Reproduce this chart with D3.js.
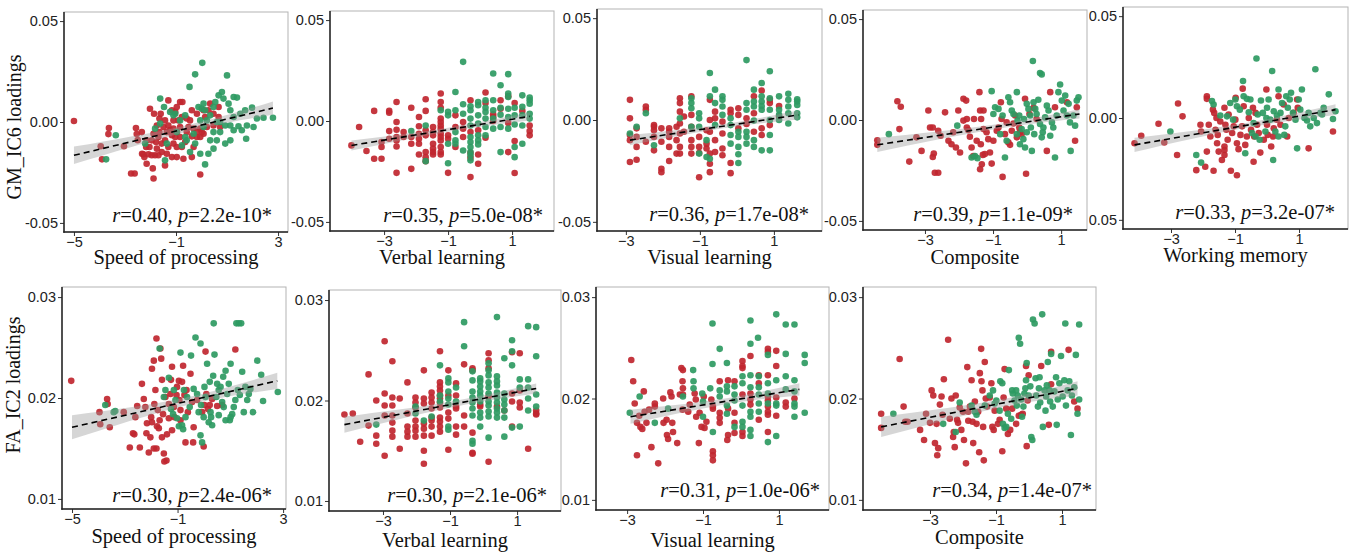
<!DOCTYPE html>
<html><head><meta charset="utf-8">
<script src="https://cdn.jsdelivr.net/npm/d3@7"></script>
<style>body{margin:0;background:#fff}</style>
</head><body><svg id="c" width="1355" height="556"></svg>
<script>
// ---------- DATA ----------
const xTitles = ["Speed of processing","Verbal learning","Visual learning","Composite","Working memory","Speed of processing","Verbal learning","Visual learning","Composite"];
const yTitles = ["GM_IC6 loadings","FA_IC2 loadings"];
const rValues = ["0.40","0.35","0.36","0.39","0.33","0.30","0.30","0.31","0.34"];
const pValues = ["2.2e-10","5.0e-08","1.7e-08","1.1e-09","3.2e-07","2.4e-06","2.1e-06","1.0e-06","1.4e-07"];
const xTickValues = [[-5,-1,3],[-3,-1,1],[-3,-1,1],[-3,-1,1],[-3,-1,1],[-5,-1,3],[-3,-1,1],[-3,-1,1],[-3,-1,1]];
const yTicksTop = [-0.05,0,0.05];
const yTickLabelsTop = ["-0.05","0.00","0.05"];
const yTicksBottom = [0.01,0.02,0.03];
const yTickLabelsBottom = ["0.01","0.02","0.03"];
// fitted line: [x0, y0, x1, y1]
const fitLines = [
 [-5.0,-0.0165,2.8,0.0069],[-4.02,-0.0121,1.55,0.0023],[-2.89,-0.0099,1.66,0.0025],[-4.40,-0.0123,1.54,0.003],[-4.14,-0.0132,2.14,0.0041],
 [-5.0,0.0171,2.78,0.0217],[-4.15,0.0176,1.57,0.0212],[-2.91,0.0182,1.54,0.0209],[-4.48,0.0172,1.47,0.021]
];
// confidence band: [x at narrowest, half-width at start, at narrowest, at end]
const bandWidths = [
 [-0.6,0.0043,0.0016,0.0033],[-1.0,0.0025,0.001,0.002],[-0.5,0.0025,0.001,0.0022],[-1.0,0.0035,0.0012,0.0023],[-0.7,0.0035,0.0012,0.0026],
 [-0.8,0.0012,0.0004,0.0008],[-1.0,0.0008,0.0003,0.0005],[-0.5,0.0007,0.0003,0.0006],[-1.0,0.001,0.0004,0.0007]
];

const red1 = [[-5.0,0.0005],[-3.63,-0.003],[-3.65,-0.006],[-3.95,-0.012],[-3.9,-0.0185],[-3.04,-0.012],[-2.76,-0.0255],[-2.62,-0.0255],[-2.57,-0.003],[-2.54,-0.006],[-2.5,-0.009],[-2.33,-0.0157],[-2.24,-0.0174],[-2.15,-0.0207],[-2.17,-0.0124],[-2.28,-0.016],[-2.08,-0.016],[-1.95,-0.0165],[-1.82,-0.0165],[-1.69,-0.0165],[-1.88,-0.028],[-1.91,-0.023],[-2.02,0.0066],[-1.86,0.0041],[-1.65,0.0017],[-1.75,-0.0017],[-1.49,-0.0025],[-1.36,-0.005],[-1.23,-0.004],[-1.1,-0.0033],[-0.96,-0.005],[-0.84,-0.0025],[-1.3,0.0107],[-1.16,0.0058],[-1.03,0.005],[-0.84,0.0099],[-0.75,0.0099],[-0.58,0.0017],[-0.45,0.0008],[-0.31,-0.0033],[-0.18,-0.005],[-0.05,-0.0074],[0.08,-0.0058],[-1.56,-0.0107],[-1.43,-0.0091],[-1.3,-0.0124],[-1.1,-0.0107],[-0.97,-0.0124],[-0.77,-0.0124],[-0.64,-0.0099],[-1.56,-0.0149],[-1.36,-0.0157],[-1.16,-0.0174],[-1.43,-0.0215],[-0.97,-0.0174],[-0.71,-0.0182],[-0.38,-0.0174],[-0.05,-0.026],[-1.78,-0.0099],[-1.69,-0.0074],[-1.95,-0.0091],[-2.15,-0.0091],[-1.88,-0.0058],[-1.65,-0.005],[-0.58,-0.005],[-0.38,-0.0071],[-0.18,-0.0074],[0.01,-0.005],[0.14,0.0025],[0.27,0.0058],[0.34,0.0091],[0.08,0.0058],[0.47,0.0041],[0.67,0.0025],[0.21,-0.0025],[0.47,-0.0017],[0.73,-0.0025],[-0.38,0.0058],[-0.18,0.0041],[-1.1,0.0008],[-0.9,0.0008],[-0.77,0.0025],[-1.3,-0.0017],[-1.16,-0.0066],[-0.84,-0.0074],[-0.51,-0.0025],[-1.43,0.0008],[-1.6,0.0041],[-0.97,0.0074],[-2.34,-0.005],[-2.04,-0.0124],[-1.75,-0.0132],[-1.03,-0.0074],[-0.31,-0.0124],[-0.05,-0.0033],[0.67,0.0074]];
const green1 = [[-3.74,-0.0185],[-3.36,-0.0066],[-2.21,-0.0107],[-1.62,0.0116],[-1.47,0.0074],[-1.23,0.005],[-1.36,-0.0107],[-1.43,-0.019],[-1.03,0.0041],[-0.97,-0.005],[-0.84,0.0008],[-0.64,0.0033],[-0.47,0.0174],[-0.25,0.0236],[0.03,0.0293],[-0.12,0.0074],[0.01,0.0066],[0.14,0.0058],[-0.05,0.0008],[0.08,-0.0025],[0.21,0.0008],[0.34,0.0033],[0.54,0.0099],[0.67,0.0132],[0.8,0.0149],[1.0,0.0231],[0.86,0.0116],[1.06,0.0091],[1.26,0.0124],[1.39,0.0121],[1.13,0.0058],[1.26,0.0025],[1.52,0.0041],[1.71,0.0058],[1.98,0.0071],[1.78,-0.0017],[2.04,-0.0025],[2.17,0.0017],[2.43,0.0021],[2.8,0.0021],[1.75,-0.0083],[1.26,-0.0041],[1.13,-0.0091],[0.93,-0.0107],[0.73,-0.005],[0.6,-0.0091],[0.47,-0.0132],[0.27,-0.0157],[-0.05,-0.0157],[0.14,-0.021],[-0.31,-0.0058],[-0.25,-0.0107],[-0.45,-0.0149],[-0.64,-0.0074],[-0.77,-0.0116],[1.13,-0.0017],[0.93,-0.0017],[0.73,0.0],[0.6,0.0],[1.45,-0.0021],[1.58,-0.0041],[0.47,-0.005],[0.34,-0.0091],[-1.62,-0.0008],[-1.82,-0.0033],[0.47,0.0074],[0.08,0.0091],[-1.1,0.0033],[-0.58,-0.0091]];

const red2 = [[-4.02,-0.0121],[-3.78,-0.003],[-3.55,-0.0149],[-3.31,0.005],[-3.31,-0.0187],[-3.08,-0.0104],[-3.08,-0.0129],[-3.08,-0.0187],[-2.84,0.005],[-2.84,0.0041],[-2.84,-0.005],[-2.84,-0.0088],[-2.61,0.0094],[-2.61,-0.0005],[-2.61,-0.0043],[-2.61,-0.0079],[-2.61,-0.0096],[-2.61,-0.0126],[-2.61,-0.0257],[-2.39,-0.0055],[-2.39,-0.0079],[-2.15,0.0066],[-2.15,-0.0079],[-2.15,-0.0113],[-2.15,-0.0237],[-1.91,0.002],[-1.91,-0.0026],[-1.91,-0.0063],[-1.91,-0.0088],[-1.91,-0.0113],[-1.91,-0.0166],[-1.70,0.0108],[-1.70,0.005],[-1.70,-0.0046],[-1.70,-0.0071],[-1.70,-0.0154],[-1.70,-0.0179],[-1.70,-0.0199],[-1.47,-0.003],[-1.47,-0.0055],[-1.47,-0.0071],[-1.47,-0.0113],[-1.47,-0.0137],[-1.47,-0.0154],[-1.47,-0.0166],[-1.23,0.0136],[-1.23,0.0094],[-1.23,0.0066],[-1.23,0.0012],[-1.23,-0.0005],[-1.23,-0.0022],[-1.23,-0.0038],[-1.23,-0.0063],[-1.23,-0.0079],[-1.23,-0.0096],[-1.23,-0.0129],[-1.23,-0.0154],[-1.23,-0.0166],[-1.0,-0.0071],[-1.0,-0.0088],[-1.0,-0.0257],[-0.77,0.0028],[-0.77,-0.003],[-0.77,-0.0129],[-0.53,-0.0005],[-0.53,-0.0038],[-0.53,-0.0079],[-0.30,0.0103],[-0.30,-0.0055],[-0.30,-0.0159],[-0.30,-0.0182],[-0.30,-0.0278],[-0.06,-0.0046],[-0.06,-0.0166],[-0.06,-0.0212],[0.17,0.0141],[0.17,0.0089],[0.17,-0.0083],[0.41,0.0033],[0.41,0.002],[0.41,0],[0.64,0.0103],[0.64,0.0061],[0.88,0.0123],[0.88,-0.001],[0.88,-0.0154],[1.08,0.0089],[1.08,-0.0099],[1.08,-0.0258],[1.32,0.005],[1.55,-0.0022],[1.55,-0.005],[1.55,-0.0071]];
const green2 = [[-2.15,-0.005],[-1.70,-0.0022],[-1.70,-0.0199],[-1.23,0.0053],[-1.0,0.0045],[-1.0,0.0028],[-1.0,-0.0113],[-1.0,-0.0209],[-0.77,0.0144],[-0.77,0.0053],[-0.77,-0.0055],[-0.77,-0.0096],[-0.77,-0.0113],[-0.53,0.0293],[-0.53,0.0083],[-0.53,0.0036],[-0.53,-0.0146],[-0.30,0.0073],[-0.30,0.0053],[-0.30,0.0012],[-0.30,-0.0022],[-0.30,-0.0079],[-0.30,-0.0104],[-0.30,-0.0129],[-0.30,-0.0154],[-0.30,-0.0171],[-0.30,-0.0195],[-0.06,0.0094],[-0.06,0.0078],[-0.06,0.0028],[-0.06,-0.0013],[-0.06,-0.0071],[-0.06,-0.0096],[-0.06,-0.0116],[0.17,0.0103],[0.17,0.0066],[0.17,0.0045],[0.17,0.0012],[0.17,-0.003],[0.17,-0.0071],[0.41,0.0235],[0.41,0.0103],[0.41,0.0053],[0.41,0.0012],[0.41,-0.0038],[0.64,0.0177],[0.64,0.0066],[0.64,0.0031],[0.64,-0.003],[0.64,-0.0154],[0.88,0.0232],[0.88,0.0136],[0.88,0.0119],[0.88,0.0061],[0.88,0.002],[0.88,-0.0038],[1.08,0.0066],[1.08,0.0028],[1.08,-0.0017],[1.08,-0.0129],[1.08,-0.0179],[1.32,0.0127],[1.32,0.007],[1.32,0.0028],[1.32,-0.0022],[1.32,-0.0113],[1.55,0.0116],[1.55,0.0103],[1.55,0.0086],[1.55,0.0036],[1.55,0.0012]];

const red3 = [[-2.89,0.0099],[-2.89,0.0008],[-2.89,-0.0074],[-2.89,-0.0099],[-2.89,-0.0206],[-2.71,-0.0041],[-2.71,-0.0083],[-2.71,-0.0132],[-2.71,-0.0195],[-2.46,0.005],[-2.46,0.0066],[-2.46,-0.0107],[-2.24,-0.0025],[-2.24,-0.0033],[-2.24,-0.005],[-2.24,-0.0083],[-2.24,-0.0149],[-2.04,-0.0041],[-2.04,-0.0107],[-2.04,-0.0239],[-2.04,-0.0256],[-1.83,-0.0041],[-1.83,-0.0058],[-1.83,-0.0083],[-1.83,-0.0132],[-1.83,-0.0201],[-1.63,-0.0033],[-1.63,-0.0099],[-1.63,-0.0165],[-1.54,0.0107],[-1.54,0.0083],[-1.54,0.0041],[-1.54,-0.0017],[-1.54,-0.0066],[-1.54,-0.0132],[-1.54,-0.0165],[-1.43,0.0017],[-1.43,-0.0058],[-1.23,0.0116],[-1.23,0.0025],[-1.23,-0.0033],[-1.23,-0.0099],[-1.23,-0.0132],[-1.23,-0.0165],[-1.02,-0.0083],[-1.02,-0.0132],[-1.02,-0.0162],[-1.02,-0.0281],[-0.82,-0.005],[-0.82,-0.0116],[-0.82,-0.014],[-0.73,0.0099],[-0.73,0],[-0.73,-0.0058],[-0.73,-0.0165],[-0.73,-0.0215],[-0.73,-0.0256],[-0.59,0.0041],[-0.59,0.0008],[-0.59,-0.0099],[-0.59,-0.0157],[-0.39,-0.0008],[-0.39,-0.0066],[-0.39,-0.014],[-0.39,-0.0173],[-0.17,0.005],[-0.17,0.0033],[-0.17,-0.0211],[-0.17,-0.0261],[0.04,0.0058],[0.04,0.0025],[0.04,-0.0041],[0.26,0.0008],[0.26,-0.002],[0.46,0.0116],[0.46,0.0033],[0.46,-0.0058],[0.67,0.0145],[0.67,-0.0041],[0.67,-0.0074],[0.89,0.0099],[0.89,0.0083],[0.89,-0.0025],[1.14,0.0069],[1.14,0.0017]];
const green3 = [[-2.89,-0.0066],[-2.71,-0.0033],[-2.46,0.0033],[-2.24,-0.0124],[-1.54,0.0008],[-1.23,0.0107],[-1.23,0.0083],[-1.23,0.0058],[-1.23,-0.0033],[-1.02,0.0033],[-1.02,0.0008],[-1.02,-0.0033],[-1.02,-0.0165],[-0.82,-0.0099],[-0.82,-0.0182],[-0.73,0.0231],[-0.73,0.0116],[-0.73,-0.019],[-0.59,0.0149],[-0.59,0.0083],[-0.59,-0.0025],[-0.39,0.0116],[-0.39,0.0099],[-0.39,0.0066],[-0.39,0.0025],[-0.17,0.0008],[-0.17,-0.0025],[-0.17,-0.0074],[-0.17,-0.0116],[0.04,-0.0058],[0.04,-0.0083],[0.04,-0.0132],[0.04,-0.0168],[0.04,-0.0211],[0.26,0.0294],[0.26,0.0083],[0.26,0.005],[0.26,-0.0058],[0.26,-0.0083],[0.26,-0.0116],[0.46,0.0149],[0.46,0.0091],[0.46,0.0066],[0.46,-0.0003],[0.46,-0.0099],[0.46,-0.0132],[0.67,0.0182],[0.67,0.0116],[0.67,0.0091],[0.67,0.0069],[0.67,0.005],[0.67,-0.0149],[0.89,0.0239],[0.89,0.0107],[0.89,0.005],[0.89,0],[0.89,-0.0074],[0.89,-0.0149],[1.14,0.0116],[1.14,0.005],[1.14,0.0025],[1.14,0],[1.39,0.0129],[1.39,0.0099],[1.39,0.0066],[1.39,0.0033],[1.39,-0.0017],[1.63,0.0102],[1.63,0.0091],[1.63,0.0074],[1.63,0.0033],[1.63,0.0013]];

const red4 = [[-4.40,-0.01],[-4.40,-0.0123],[-3.81,0.0093],[-3.71,0.0066],[-3.75,-0.0045],[-3.46,-0.0206],[-3.25,-0.0086],[-3.10,-0.0153],[-2.90,0.0047],[-2.85,-0.0037],[-2.77,-0.0037],[-2.77,-0.0183],[-2.71,-0.0261],[-2.61,-0.0261],[-2.74,-0.0166],[-2.61,-0.0053],[-2.54,-0.0078],[-2.41,0.0038],[-2.31,-0.0103],[-2.22,-0.012],[-2.17,-0.0061],[-2.09,-0.0136],[-2.02,0.0047],[-1.97,-0.0161],[-1.87,0.0105],[-1.79,0.0096],[-1.87,-0.0003],[-1.77,-0.0037],[-1.73,-0.005],[-1.68,-0.0083],[-1.63,-0.0136],[-1.58,-0.0178],[-1.56,0.0005],[-1.48,-0.0103],[-1.40,0.0138],[-1.38,0.0047],[-1.28,0.0047],[-1.35,0.0005],[-1.28,-0.0045],[-1.19,-0.0061],[-1.30,-0.0173],[-1.24,-0.0169],[-1.38,-0.0244],[-1.33,-0.0219],[-1.09,-0.0161],[-1.04,-0.0216],[-0.99,-0.0103],[-0.89,-0.0053],[-0.84,-0.0037],[-0.77,0.0088],[-0.75,0.0005],[-0.72,-0.0282],[-0.65,-0.0070],[-0.60,-0.0012],[-0.55,-0.0111],[-0.50,-0.0123],[-0.45,-0.0053],[-0.40,-0.0017],[-0.35,0.0022],[-0.30,-0.0086],[-0.23,-0.0037],[-0.21,-0.0061],[-0.16,-0.007],[-0.06,0.0105],[-0.03,-0.0266],[0.07,0.003],[0.19,0.006],[0.28,0.0005],[0.58,-0.0153],[0.68,0.0138],[0.82,0.0063],[1.17,0.0088],[1.41,-0.0103],[1.46,0.0063],[-1.36,-0.012],[-1.14,-0.0095],[-1.77,0.0005]];
const green4 = [[-4.06,-0.007],[-2.05,-0.0028],[-1.63,-0.0186],[-1.53,-0.0178],[-1.46,-0.0189],[-1.04,0.0143],[-0.99,0.003],[-0.94,0.0063],[-0.84,0.0055],[-0.72,0.0022],[-0.65,-0.0186],[-0.55,0.0113],[-0.50,0.0088],[-0.45,0.0047],[-0.40,0.003],[-0.30,0.0138],[-0.28,-0.0003],[-0.21,-0.012],[-0.11,-0.0095],[-0.06,-0.0136],[-0.01,0.008],[0.04,0.0055],[0.09,0.0022],[0.11,-0.0037],[0.14,-0.0153],[0.17,0.0292],[0.19,0.0088],[0.24,0.0055],[0.28,0.003],[0.33,0.01],[0.38,0.0233],[0.43,0.0226],[0.38,-0.002],[0.43,-0.0086],[0.48,-0.0037],[0.53,0.0013],[0.58,0.0071],[0.63,0.0047],[0.68,-0.0078],[0.73,-0.0012],[0.77,-0.0037],[0.82,-0.0186],[0.87,0.0022],[0.92,0.0138],[0.97,0.0176],[1.02,0.0096],[1.07,0.0047],[1.12,0.0121],[1.17,0.0022],[1.22,0.008],[1.26,-0.0012],[1.36,0.0022],[1.41,-0.0028],[1.46,0.0096],[1.51,0.0113],[1.28,-0.0153],[-0.30,-0.007],[-0.16,-0.0045],[-0.01,-0.0061],[0.21,-0.007],[0.46,-0.0061],[-0.23,0.0022],[-0.09,0.0005],[-0.79,-0.007],[-0.60,-0.0103]];

const red5 = [[-4.14,-0.0124],[-3.93,-0.0087],[-3.39,-0.0028],[-3.21,-0.012],[-2.81,-0.0182],[-2.78,0.0071],[-2.64,0.0008],[-2.21,-0.0256],[-2.08,-0.0033],[-2.06,-0.0066],[-1.93,-0.0239],[-1.88,0.0107],[-1.88,0.0094],[-1.88,-0.0165],[-1.82,-0.0033],[-1.77,-0.0091],[-1.69,0.0041],[-1.67,-0.0259],[-1.65,0.0025],[-1.61,-0.0058],[-1.58,0],[-1.56,-0.0124],[-1.54,-0.0083],[-1.51,-0.0165],[-1.41,-0.0206],[-1.33,0.005],[-1.33,-0.014],[-1.33,-0.0157],[-1.33,-0.0182],[-1.30,-0.0033],[-1.27,-0.0058],[-1.20,0.0017],[-1.13,-0.0259],[-1.09,-0.0074],[-1.04,-0.0041],[-0.99,-0.0008],[-0.98,0.0099],[-0.94,-0.0281],[-0.94,-0.0124],[-0.89,-0.0153],[-0.83,-0.0083],[-0.78,-0.0041],[-0.76,0.0144],[-0.73,0.0058],[-0.68,-0.0132],[-0.63,-0.0091],[-0.57,0],[-0.50,-0.0058],[-0.44,0.005],[-0.42,-0.0215],[-0.40,-0.0091],[-0.36,0.0025],[-0.31,-0.0033],[-0.26,-0.0074],[-0.21,-0.017],[-0.10,-0.0107],[-0.02,0.014],[0.0,-0.0033],[0.02,-0.0083],[0.13,-0.014],[0.19,-0.0091],[0.21,-0.005],[0.31,-0.0008],[0.36,0.0107],[0.42,-0.0033],[0.52,0.0066],[0.63,-0.0091],[0.68,0],[0.83,0.0025],[0.94,0.0091],[0.96,0.005],[1.30,-0.0149],[2.06,-0.0066],[-1.23,-0.0107],[-1.46,-0.0017]];
const green5 = [[-3.02,-0.0066],[-2.21,-0.0182],[-2.06,-0.0219],[-1.72,0.0083],[-1.67,0.0066],[-1.46,0.0012],[-1.25,0.0008],[-1.15,0.0074],[-1.06,-0.0008],[-0.99,0.0091],[-0.94,0.0058],[-0.85,0.0041],[-0.75,0.0182],[-0.73,0.0107],[-0.68,-0.0173],[-0.63,0.0094],[-0.57,0.0028],[-0.52,0.0091],[-0.47,-0.0074],[-0.42,-0.0025],[-0.36,-0.0091],[-0.33,0.0292],[-0.29,0.0017],[-0.23,-0.0107],[-0.19,0.0086],[-0.13,0.0025],[-0.05,-0.0066],[-0.02,0],[0.0,0.005],[0.05,0.0091],[0.10,-0.0008],[0.16,0.0231],[0.19,-0.0206],[0.21,0.0033],[0.26,-0.0066],[0.31,0.0012],[0.36,0.014],[0.42,0.0025],[0.47,0.0074],[0.54,-0.0083],[0.57,-0.0041],[0.60,0.0107],[0.65,0.005],[0.71,0.0091],[0.75,0.0124],[0.81,0.0025],[0.89,-0.0008],[0.94,-0.0149],[0.99,0.0091],[1.04,0.0041],[1.09,0.014],[1.17,0],[1.25,-0.0012],[1.30,0.0025],[1.35,-0.0041],[1.46,0],[1.51,0.0239],[1.56,-0.0025],[1.67,0.0025],[1.72,0.0017],[1.77,0.005],[1.93,0.0116],[2.06,-0.0005],[2.14,0.0033],[0.36,-0.0091]];

const red6 = [[-5.03,0.0217],[-3.96,0.0186],[-3.93,0.0174],[-3.67,0.0199],[-3.65,0.0194],[-3.57,0.0171],[-3.04,0.0186],[-2.81,0.0151],[-2.69,0.0165],[-2.64,0.0164],[-2.60,0.0181],[-2.53,0.0192],[-2.43,0.0151],[-2.35,0.0214],[-2.28,0.0199],[-2.22,0.0191],[-2.18,0.0165],[-2.16,0.0175],[-2.09,0.0146],[-2.03,0.0161],[-2.00,0.0181],[-1.97,0.0176],[-1.97,0.0229],[-1.90,0.0237],[-1.90,0.015],[-1.88,0.0194],[-1.84,0.0208],[-1.80,0.015],[-1.80,0.0259],[-1.78,0.0172],[-1.75,0.0188],[-1.71,0.017],[-1.68,0.0178],[-1.65,0.0249],[-1.62,0.0239],[-1.59,0.0218],[-1.55,0.0184],[-1.52,0.0145],[-1.50,0.0137],[-1.42,0.0138],[-1.46,0.0201],[-1.40,0.0164],[-1.33,0.0194],[-1.33,0.018],[-1.27,0.0204],[-1.25,0.0218],[-1.21,0.0231],[-1.21,0.0168],[-1.14,0.0191],[-1.12,0.0181],[-1.04,0.0203],[-1.02,0.0211],[-0.95,0.0217],[-0.93,0.0198],[-0.89,0.0188],[-0.83,0.0216],[-0.79,0.0232],[-0.74,0.0203],[-0.70,0.0156],[-0.66,0.0208],[-0.61,0.0186],[-0.51,0.0224],[-0.45,0.0196],[-0.41,0.0156],[-0.39,0.0171],[-0.26,0.0198],[-0.07,0.0186],[-0.01,0.0152],[0.02,0.0193],[0.06,0.0246],[0.09,0.0204],[0.15,0.0189],[0.22,0.0193],[0.31,0.0199],[0.50,0.0192],[0.69,0.0193],[1.19,0.0248],[-0.89,0.0178],[-1.59,0.0161]];
const green6 = [[-3.74,0.0193],[-3.42,0.0186],[-3.36,0.0187],[-1.68,0.0249],[-1.52,0.0201],[-1.46,0.0208],[-1.33,0.022],[-1.25,0.0189],[-1.17,0.0184],[-1.14,0.0208],[-1.08,0.0198],[-1.02,0.018],[-0.95,0.0172],[-0.89,0.0245],[-0.83,0.0173],[-0.79,0.0169],[-0.76,0.0208],[-0.70,0.0181],[-0.64,0.0201],[-0.54,0.0191],[-0.49,0.0242],[-0.39,0.0209],[-0.32,0.026],[-0.26,0.0204],[-0.20,0.0186],[-0.13,0.0254],[-0.13,0.0163],[-0.11,0.0193],[-0.07,0.0156],[-0.01,0.0181],[0.02,0.0211],[0.06,0.0201],[0.12,0.0234],[0.18,0.0176],[0.22,0.0216],[0.25,0.0186],[0.27,0.0181],[0.31,0.0173],[0.35,0.0222],[0.37,0.0274],[0.40,0.0243],[0.47,0.0201],[0.50,0.0214],[0.56,0.0208],[0.63,0.0211],[0.69,0.0196],[0.73,0.0221],[0.75,0.0191],[0.82,0.0227],[0.88,0.0204],[0.94,0.0214],[0.98,0.0178],[1.01,0.0234],[1.07,0.0184],[1.13,0.0191],[1.19,0.0198],[1.23,0.0274],[1.32,0.0274],[1.41,0.0274],[1.28,0.0208],[1.36,0.0203],[1.45,0.0226],[1.51,0.0186],[1.57,0.0211],[1.64,0.0198],[1.70,0.0204],[1.76,0.0209],[1.86,0.0186],[2.02,0.0237],[2.17,0.0223],[2.24,0.0197],[2.80,0.0206],[0.56,0.0183],[0.82,0.0178],[1.01,0.0181]];

const red7 = [[-4.15,0.0186],[-3.90,0.0187],[-3.68,0.0159],[-3.43,0.0226],[-3.43,0.0175],[-3.20,0.02],[-3.20,0.0165],[-3.20,0.0157],[-2.95,0.0259],[-2.95,0.0207],[-2.95,0.0195],[-2.95,0.0185],[-2.95,0.0145],[-2.72,0.0239],[-2.72,0.0203],[-2.72,0.0195],[-2.72,0.0185],[-2.72,0.0178],[-2.72,0.017],[-2.72,0.0164],[-2.50,0.0202],[-2.50,0.0152],[-2.27,0.0218],[-2.27,0.0187],[-2.27,0.0174],[-2.27,0.0169],[-2.27,0.0164],[-2.03,0.0203],[-2.03,0.0198],[-2.03,0.0193],[-2.03,0.018],[-2.03,0.0174],[-2.03,0.017],[-2.03,0.0164],[-1.78,0.023],[-1.78,0.0202],[-1.78,0.0197],[-1.78,0.0177],[-1.78,0.0172],[-1.78,0.0165],[-1.78,0.015],[-1.78,0.0137],[-1.55,0.0208],[-1.55,0.0203],[-1.55,0.0198],[-1.55,0.0192],[-1.55,0.0183],[-1.55,0.018],[-1.55,0.0174],[-1.55,0.0165],[-1.30,0.0249],[-1.30,0.0218],[-1.30,0.0214],[-1.30,0.021],[-1.30,0.0205],[-1.30,0.0202],[-1.30,0.0198],[-1.30,0.0193],[-1.30,0.0183],[-1.30,0.0179],[-1.30,0.0174],[-1.30,0.0169],[-1.05,0.023],[-1.05,0.0205],[-1.05,0.0188],[-1.05,0.0182],[-1.05,0.0151],[-0.82,0.0217],[-0.82,0.0205],[-0.82,0.0194],[-0.82,0.0192],[-0.82,0.0174],[-0.82,0.0166],[-0.58,0.0236],[-0.58,0.0185],[-0.58,0.0174],[-0.33,0.0232],[-0.33,0.023],[-0.33,0.0168],[-0.33,0.0148],[-0.33,0.0147],[-0.10,0.0194],[-0.10,0.0196],[0.15,0.0247],[0.15,0.024],[0.15,0.0232],[0.15,0.0204],[0.15,0.0139],[0.40,0.0194],[0.62,0.019],[0.85,0.0248],[0.85,0.0207],[0.85,0.0199],[0.85,0.0174],[1.08,0.0247],[1.08,0.021],[1.08,0.0198],[1.08,0.0193],[1.33,0.0152],[1.57,0.019],[1.57,0.0187],[1.57,0.0186]];
const green7 = [[-3.20,0.0176],[-2.03,0.0194],[-2.03,0.0187],[-1.78,0.018],[-1.55,0.0184],[-1.30,0.0235],[-1.30,0.0205],[-1.30,0.0199],[-1.05,0.0222],[-1.05,0.0218],[-1.05,0.0209],[-1.05,0.0202],[-1.05,0.0196],[-1.05,0.0174],[-1.05,0.0171],[-0.82,0.0213],[-0.82,0.0199],[-0.58,0.0278],[-0.58,0.0254],[-0.33,0.0229],[-0.33,0.022],[-0.33,0.0209],[-0.33,0.0203],[-0.33,0.0198],[-0.33,0.0192],[-0.33,0.0185],[-0.33,0.016],[-0.33,0.0157],[-0.10,0.0222],[-0.10,0.0219],[-0.10,0.0214],[-0.10,0.0209],[-0.10,0.0205],[-0.10,0.0199],[-0.10,0.0188],[-0.10,0.0183],[-0.10,0.0174],[0.15,0.0237],[0.15,0.023],[0.15,0.0225],[0.15,0.0218],[0.15,0.0213],[0.15,0.0207],[0.15,0.0199],[0.15,0.0195],[0.15,0.0189],[0.15,0.0184],[0.15,0.0163],[0.40,0.0283],[0.40,0.0224],[0.40,0.0219],[0.40,0.0215],[0.40,0.0208],[0.40,0.0203],[0.40,0.0198],[0.40,0.0192],[0.40,0.0188],[0.40,0.0183],[0.62,0.0242],[0.62,0.0207],[0.62,0.0201],[0.62,0.0196],[0.62,0.019],[0.62,0.0183],[0.62,0.0164],[0.85,0.026],[0.85,0.0249],[0.85,0.0235],[0.85,0.0173],[1.08,0.0221],[1.08,0.0213],[1.08,0.0174],[1.33,0.0274],[1.33,0.0221],[1.33,0.0213],[1.33,0.0202],[1.33,0.019],[1.57,0.0273],[1.57,0.0244],[1.57,0.0206],[1.57,0.0194]];

const red8 = [[-2.89,0.0238],[-2.84,0.0217],[-2.80,0.0195],[-2.74,0.0176],[-2.74,0.0144],[-2.68,0.0183],[-2.65,0.0172],[-2.60,0.017],[-2.56,0.0207],[-2.54,0.0187],[-2.49,0.0176],[-2.42,0.0189],[-2.36,0.0152],[-2.27,0.0195],[-2.27,0.0192],[-2.18,0.0136],[-2.05,0.02],[-2.04,0.0176],[-1.96,0.0179],[-1.95,0.0164],[-1.92,0.016],[-1.86,0.0206],[-1.83,0.0202],[-1.81,0.0176],[-1.79,0.0167],[-1.68,0.0156],[-1.61,0.0204],[-1.57,0.023],[-1.54,0.0217],[-1.53,0.021],[-1.53,0.0228],[-1.53,0.0204],[-1.54,0.0189],[-1.39,0.0187],[-1.35,0.0194],[-1.22,0.0205],[-1.19,0.0199],[-1.18,0.0182],[-1.11,0.0156],[-1.09,0.0186],[-1.04,0.0172],[-0.98,0.0202],[-0.96,0.0171],[-0.91,0.0177],[-0.78,0.0199],[-0.74,0.019],[-0.74,0.0192],[-0.74,0.0148],[-0.74,0.0144],[-0.74,0.0139],[-0.56,0.0186],[-0.56,0.0181],[-0.56,0.0176],[-0.56,0.0217],[-0.34,0.0164],[-0.36,0.0159],[-0.34,0.0218],[-0.34,0.019],[-0.17,0.0217],[-0.17,0.0186],[-0.17,0.0176],[-0.17,0.0166],[0.04,0.0237],[0.04,0.0232],[0.04,0.023],[0.04,0.0204],[0.04,0.0167],[0.04,0.0163],[0.25,0.0242],[0.25,0.0205],[0.25,0.0199],[0.25,0.0194],[0.47,0.0223],[0.47,0.0215],[0.47,0.0179],[0.71,0.0249],[0.71,0.0246],[0.71,0.0223],[0.71,0.0202],[0.71,0.0198],[0.71,0.0192],[0.71,0.0187],[0.71,0.0184],[0.71,0.0167],[0.93,0.0247],[0.93,0.0232],[0.93,0.0201],[0.93,0.0183],[1.18,0.0196],[1.18,0.0192],[1.41,0.02]];
const green8 = [[-2.93,0.0186],[-2.67,0.0202],[-2.27,0.0176],[-1.92,0.019],[-1.53,0.0202],[-1.26,0.0228],[-1.25,0.021],[-1.25,0.0217],[-1.02,0.0205],[-1.0,0.0197],[-1.0,0.0182],[-0.81,0.021],[-0.75,0.0274],[-0.75,0.0234],[-0.74,0.0167],[-0.56,0.0249],[-0.56,0.0208],[-0.56,0.0202],[-0.37,0.0235],[-0.37,0.0212],[-0.37,0.0207],[-0.37,0.0193],[-0.37,0.0185],[-0.17,0.0212],[-0.17,0.0204],[-0.17,0.0198],[-0.17,0.0172],[0.04,0.0222],[0.04,0.0215],[0.04,0.0193],[0.04,0.0177],[0.04,0.0172],[0.25,0.0277],[0.25,0.0254],[0.25,0.0223],[0.25,0.0211],[0.25,0.0187],[0.25,0.0182],[0.25,0.0169],[0.25,0.0163],[0.45,0.026],[0.47,0.0222],[0.47,0.0211],[0.47,0.0204],[0.47,0.0195],[0.47,0.0187],[0.71,0.0243],[0.71,0.0215],[0.71,0.0205],[0.71,0.0195],[0.71,0.0157],[0.93,0.0283],[0.93,0.0218],[0.93,0.0195],[0.93,0.0193],[0.93,0.0163],[1.18,0.0273],[1.18,0.0244],[1.18,0.0222],[1.18,0.0209],[1.41,0.0273],[1.41,0.0218],[1.41,0.0207],[1.41,0.0195],[1.41,0.0192],[1.41,0.0182],[1.68,0.0243],[1.68,0.0235],[1.68,0.0186]];

const red9 = [[-4.48,0.0185],[-4.48,0.0171],[-3.92,0.0239],[-3.80,0.0192],[-3.75,0.0177],[-3.68,0.0177],[-3.30,0.0169],[-3.18,0.0159],[-3.12,0.0185],[-3.00,0.0176],[-2.95,0.0208],[-2.90,0.0203],[-2.85,0.0156],[-2.80,0.0175],[-2.78,0.0144],[-2.75,0.0151],[-2.70,0.0194],[-2.65,0.0202],[-2.62,0.0184],[-2.58,0.0219],[-2.45,0.0258],[-2.40,0.018],[-2.35,0.02],[-2.30,0.0162],[-2.28,0.0167],[-2.25,0.0152],[-2.22,0.0203],[-2.18,0.0179],[-2.15,0.0176],[-2.10,0.0191],[-2.05,0.0169],[-2.0,0.0187],[-1.97,0.0159],[-1.91,0.0136],[-1.87,0.0231],[-1.84,0.0178],[-1.79,0.0192],[-1.74,0.0218],[-1.71,0.0177],[-1.69,0.0156],[-1.64,0.0197],[-1.59,0.0175],[-1.51,0.0147],[-1.49,0.0225],[-1.45,0.0249],[-1.44,0.0217],[-1.41,0.0208],[-1.39,0.0172],[-1.37,0.0139],[-1.34,0.0236],[-1.31,0.02],[-1.27,0.0192],[-1.19,0.0201],[-1.14,0.0215],[-1.11,0.0172],[-1.07,0.0169],[-1.04,0.0188],[-0.94,0.0175],[-0.89,0.0179],[-0.81,0.0148],[-0.77,0.0201],[-0.74,0.0229],[-0.69,0.019],[-0.64,0.0165],[-0.57,0.0169],[-0.51,0.019],[-0.39,0.0175],[-0.31,0.0183],[-0.24,0.0184],[-0.19,0.0185],[-0.09,0.0232],[-0.07,0.0153],[-0.04,0.0198],[-0.01,0.0223],[0.37,0.0232],[0.60,0.0174],[0.67,0.0246],[0.67,0.0214],[1.20,0.0248],[1.37,0.0197],[1.47,0.019],[-1.84,0.0187],[-1.54,0.0187]];
const green9 = [[-4.11,0.0185],[-2.60,0.0175],[-2.22,0.0167],[-2.10,0.0196],[-1.74,0.0193],[-1.64,0.0187],[-1.59,0.0184],[-1.34,0.0193],[-1.19,0.0203],[-1.09,0.0208],[-1.04,0.0195],[-0.99,0.0198],[-0.89,0.0188],[-0.87,0.0217],[-0.81,0.0215],[-0.79,0.0175],[-0.74,0.0171],[-0.69,0.0172],[-0.64,0.0185],[-0.61,0.0228],[-0.54,0.018],[-0.51,0.0208],[-0.49,0.0205],[-0.44,0.0198],[-0.39,0.0208],[-0.37,0.0193],[-0.34,0.0203],[-0.31,0.026],[-0.27,0.0254],[-0.24,0.0199],[-0.21,0.0182],[-0.17,0.0192],[-0.14,0.0205],[-0.11,0.021],[-0.09,0.0218],[-0.07,0.0235],[-0.01,0.0203],[0.04,0.0212],[0.07,0.0162],[0.10,0.0159],[0.12,0.0278],[0.17,0.0274],[0.20,0.022],[0.22,0.0203],[0.27,0.0192],[0.30,0.021],[0.32,0.0221],[0.34,0.0196],[0.40,0.0283],[0.42,0.0172],[0.47,0.0208],[0.50,0.0188],[0.52,0.0202],[0.54,0.0213],[0.57,0.0236],[0.62,0.0208],[0.64,0.0197],[0.67,0.0244],[0.72,0.0192],[0.77,0.0207],[0.82,0.0221],[0.84,0.0174],[0.87,0.0199],[0.92,0.0215],[0.97,0.0242],[1.02,0.0202],[1.07,0.0218],[1.10,0.0274],[1.12,0.0193],[1.17,0.0208],[1.22,0.0217],[1.27,0.0164],[1.30,0.0203],[1.37,0.0211],[1.42,0.0243],[1.47,0.0185],[1.52,0.0273],[1.52,0.0199]];

const redSets = [red1,red2,red3,red4,red5,red6,red7,red8,red9];
const greenSets = [green1,green2,green3,green4,green5,green6,green7,green8,green9];

// ---------- LAYOUT (positions / styles) ----------
const layout = [
 {L:64,T:12,R:288,B:232,xd:[-5.39,3.39],row:0,annR:16,annB:10,tDy:32},
 {L:330,T:11,R:554,B:231,xd:[-4.69,2.31],row:0,annR:11,annB:9,tDy:33},
 {L:597,T:9,R:822,B:231,xd:[-3.78,2.30],row:0,annR:13,annB:10,tDy:33},
 {L:863,T:10,R:1087,B:230,xd:[-4.82,1.76],row:0,annR:14,annB:9,tDy:34},
 {L:1123,T:7,R:1348,B:229,xd:[-4.5,2.53],row:0,annR:13,annB:10,tDy:33,clip:1089},
 {L:62,T:287,R:286,B:509,xd:[-5.38,3.11],row:1,annR:14,annB:7,tDy:34},
 {L:329,T:290,R:561,B:511,xd:[-4.61,2.31],row:1,annR:14,annB:9,tDy:36},
 {L:596,T:287,R:829,B:510,xd:[-3.82,2.32],row:1,annR:9,annB:13,tDy:37},
 {L:863,T:287,R:1096,B:510,xd:[-5.03,2.03],row:1,annR:4,annB:13,tDy:34}
];
const yDomains = [[-0.0545,0.0545],[0.009,0.031]];
const RED = "#C0262F", GREEN = "#2E9A62";
const SANS = "'Liberation Sans', Arial, sans-serif";
const SERIF = "'Liberation Serif', 'Times New Roman', serif";

const svg = d3.select("#c");
svg.append("rect").attr("width",1355).attr("height",556).attr("fill","#fff");
const defs = svg.append("defs");

layout.forEach((p,i)=>{
  const x = d3.scaleLinear().domain(p.xd).range([p.L,p.R]);
  const y = d3.scaleLinear().domain(yDomains[p.row]).range([p.B,p.T]);
  let g = svg.append("g");
  if (p.clip){
    defs.append("clipPath").attr("id","clip"+i).append("rect")
      .attr("x",p.clip).attr("y",0).attr("width",1355-p.clip).attr("height",280);
    g.attr("clip-path","url(#clip"+i+")");
  }
  g.append("rect").attr("x",p.L).attr("y",p.T).attr("width",p.R-p.L).attr("height",p.B-p.T)
    .attr("fill","#fff").attr("stroke","#b3b3b3").attr("stroke-width",1);

  const pts = g.append("g");
  pts.selectAll("circle.r").data(redSets[i]).join("circle")
    .attr("cx",d=>x(d[0])).attr("cy",d=>y(d[1])).attr("r",3.3).attr("fill",RED).attr("fill-opacity",0.92);
  pts.selectAll("circle.g").data(greenSets[i]).join("circle")
    .attr("cx",d=>x(d[0])).attr("cy",d=>y(d[1])).attr("r",3.3).attr("fill",GREEN).attr("fill-opacity",0.92);

  const f = fitLines[i], b = bandWidths[i];
  const lineY = xx => f[1] + (xx - f[0])*(f[3]-f[1])/(f[2]-f[0]);
  const bandPts = [[f[0],b[1]],[b[0],b[2]],[f[2],b[3]]];
  const area = d3.area().curve(d3.curveNatural)
    .x(d=>x(d[0])).y0(d=>y(lineY(d[0])-d[1])).y1(d=>y(lineY(d[0])+d[1]));
  g.append("path").attr("d",area(bandPts)).attr("fill","#999").attr("fill-opacity",0.4);
  g.append("line").attr("x1",x(f[0])).attr("y1",y(f[1])).attr("x2",x(f[2])).attr("y2",y(f[3]))
    .attr("stroke","#000").attr("stroke-width",1.6).attr("stroke-dasharray","6,4");

  const yt = p.row===0 ? yTicksTop : yTicksBottom;
  const ytl = p.row===0 ? yTickLabelsTop : yTickLabelsBottom;
  const yAxis = d3.axisLeft(y).tickValues(yt).tickFormat((d,k)=>ytl[k]).tickSize(4).tickPadding(2);
  const xAxis = d3.axisBottom(x).tickValues(xTickValues[i]).tickFormat(d=>d<0?"\u2212"+Math.abs(d):String(d)).tickSize(4).tickPadding(1);
  const ya = g.append("g").attr("transform",`translate(${p.L},0)`).call(yAxis);
  const xa = g.append("g").attr("transform",`translate(0,${p.B})`).call(xAxis);
  [ya,xa].forEach(a=>{
    a.select(".domain").remove();
    a.selectAll(".tick line").attr("stroke","#333").attr("stroke-width",1);
    a.selectAll(".tick text").attr("font-family",SANS).attr("font-size",14.5).attr("fill","#222");
  });
  g.append("line").attr("x1",p.L).attr("y1",p.T).attr("x2",p.L).attr("y2",p.B+0.75).attr("stroke","#222").attr("stroke-width",1.5);
  g.append("line").attr("x1",p.L-0.75).attr("y1",p.B).attr("x2",p.R).attr("y2",p.B).attr("stroke","#222").attr("stroke-width",1.5);

  g.append("text").attr("x",(p.L+p.R)/2).attr("y",p.B+p.tDy).attr("text-anchor","middle")
    .attr("font-family",SERIF).attr("font-size",20.5).attr("fill","#111").text(xTitles[i]);

  const t = g.append("text").attr("x",p.R-p.annR).attr("y",p.B-p.annB).attr("text-anchor","end")
    .attr("font-family",SERIF).attr("font-size",20.5).attr("fill","#111");
  t.append("tspan").attr("font-style","italic").text("r");
  t.append("tspan").text("=" + rValues[i] + ", ");
  t.append("tspan").attr("font-style","italic").text("p");
  t.append("tspan").text("=" + pValues[i] + "*");
});

[[21,127],[20,385]].forEach((c,k)=>{
  svg.append("text").attr("transform",`translate(${c[0]},${c[1]}) rotate(-90)`).attr("text-anchor","middle")
    .attr("font-family",SERIF).attr("font-size",20).attr("fill","#111").text(yTitles[k]);
});
</script></body></html>
